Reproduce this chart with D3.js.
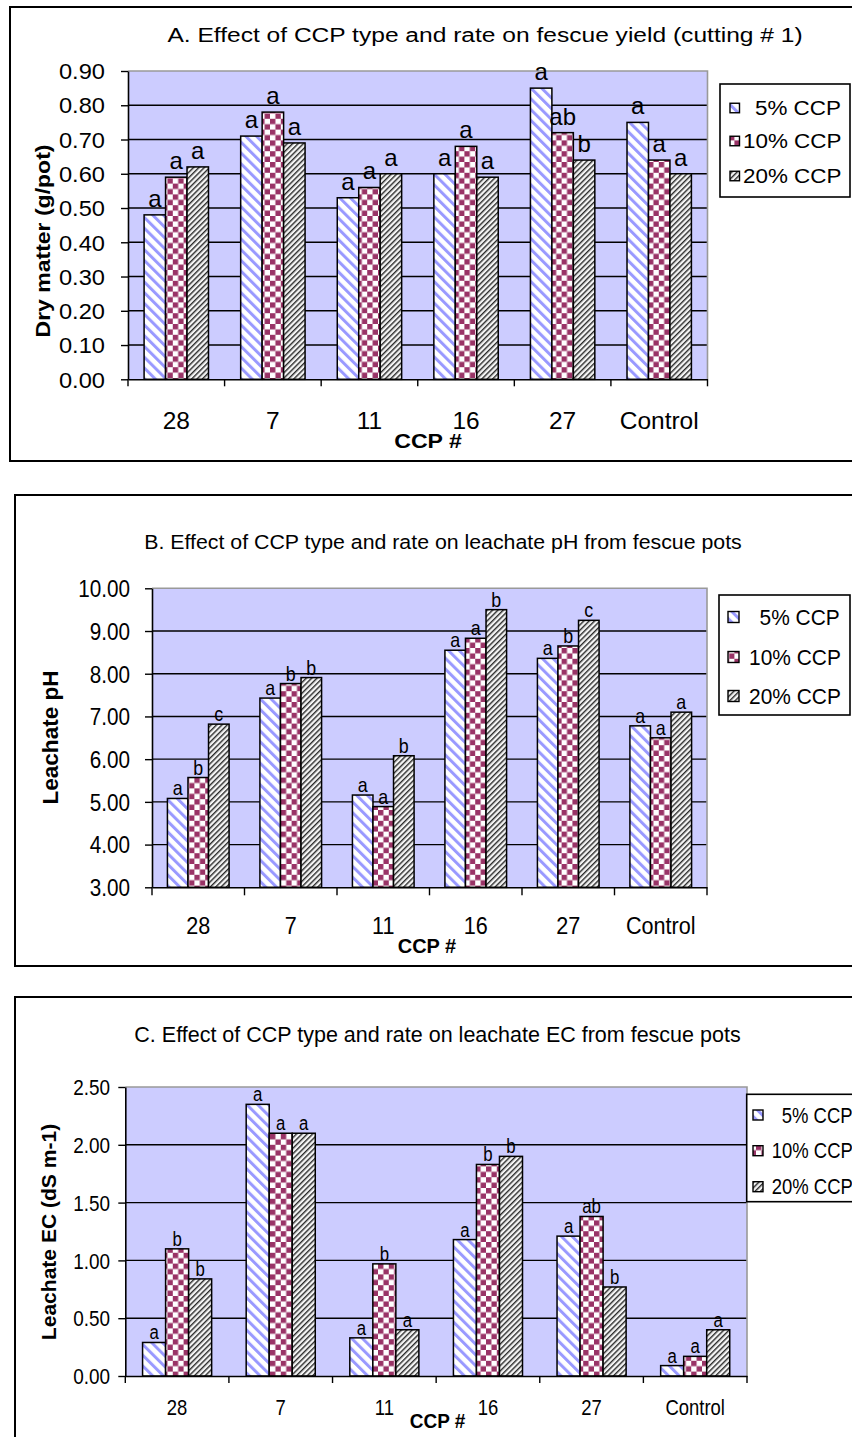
<!DOCTYPE html>
<html><head><meta charset="utf-8">
<script src="https://cdn.jsdelivr.net/npm/d3@7"></script>
<style>
body{margin:0;background:#fff}
svg{display:block}
text{font-family:"Liberation Sans",Arial,sans-serif;fill:#000}
</style>
</head><body>
<svg id="chart" width="852" height="1437"></svg>
<script>
// ---------------- DATA ----------------
const categories = ["28", "7", "11", "16", "27", "Control"];
const seriesNames = ["5% CCP", "10% CCP", "20% CCP"];

// A. Dry matter (g/pot)
const dryMatter5  = [0.48, 0.71, 0.53, 0.60, 0.85, 0.75];
const dryMatter10 = [0.59, 0.78, 0.56, 0.68, 0.72, 0.64];
const dryMatter20 = [0.62, 0.69, 0.60, 0.59, 0.64, 0.60];
const lettersA5  = ["a", "a", "a", "a", "a", "a"];
const lettersA10 = ["a", "a", "a", "a", "ab", "a"];
const lettersA20 = ["a", "a", "a", "a", "b", "a"];
const ticksA = [0, 0.1, 0.2, 0.3, 0.4, 0.5, 0.6, 0.7, 0.8, 0.9];

// B. Leachate pH
const pH5  = [5.08, 7.43, 5.16, 8.55, 8.36, 6.78];
const pH10 = [5.57, 7.77, 4.89, 8.83, 8.65, 6.50];
const pH20 = [6.82, 7.91, 6.08, 9.50, 9.25, 7.10];
const lettersB5  = ["a", "a", "a", "a", "a", "a"];
const lettersB10 = ["b", "b", "a", "a", "b", "a"];
const lettersB20 = ["c", "b", "b", "b", "c", "a"];
const ticksB = [3, 4, 5, 6, 7, 8, 9, 10];

// C. Leachate EC (dS m-1)
const ec5  = [0.29, 2.35, 0.33, 1.18, 1.21, 0.09];
const ec10 = [1.10, 2.10, 0.97, 1.83, 1.38, 0.17];
const ec20 = [0.84, 2.10, 0.40, 1.90, 0.77, 0.40];
const lettersC5  = ["a", "a", "a", "a", "a", "a"];
const lettersC10 = ["b", "a", "b", "b", "ab", "a"];
const lettersC20 = ["b", "a", "a", "b", "b", "a"];
const ticksC = [0, 0.5, 1, 1.5, 2, 2.5];

const titleA = "A. Effect of CCP type and rate on fescue yield (cutting # 1)";
const titleB = "B. Effect of CCP type and rate on leachate pH from fescue pots";
const titleC = "C. Effect of CCP type and rate on leachate EC from fescue pots";
const yTitleA = "Dry matter (g/pot)";
const yTitleB = "Leachate pH";
const yTitleC = "Leachate EC (dS m-1)";
const xTitle = "CCP #";

// ---------------- LAYOUT / STYLE ----------------
const svg = d3.select("#chart");
const defs = svg.append("defs");

function stripePattern(id, period, width, color, bg, angle) {
  const p = defs.append("pattern").attr("id", id)
    .attr("patternUnits", "userSpaceOnUse")
    .attr("width", period).attr("height", period)
    .attr("patternTransform", `rotate(${angle})`);
  p.append("rect").attr("width", period).attr("height", period).attr("fill", bg);
  p.append("rect").attr("width", width).attr("height", period).attr("fill", color);
}
stripePattern("pat5", 7.6, 3.0, "#9999ff", "#ffffff", -45);
stripePattern("pat20", 3.8, 1.4, "#2a2a2a", "#f4f4f4", 45);
(function () {
  const a = 5.4;
  const p = defs.append("pattern").attr("id", "pat10")
    .attr("patternUnits", "userSpaceOnUse").attr("width", 2 * a).attr("height", 2 * a);
  p.append("rect").attr("width", 2 * a).attr("height", 2 * a).attr("fill", "#ffffff");
  p.append("rect").attr("width", a).attr("height", a).attr("fill", "#993366");
  p.append("rect").attr("x", a).attr("y", a).attr("width", a).attr("height", a).attr("fill", "#993366");
})();
const fills = ["url(#pat5)", "url(#pat10)", "url(#pat20)"];

function txt(g, x, y, s, size, sx, opts = {}) {
  const t = g.append("text")
    .attr("transform", `translate(${x},${y})${opts.rot ? " rotate(-90)" : ""} scale(${sx},1)`)
    .attr("font-size", size)
    .attr("text-anchor", opts.anchor || "middle")
    .text(s);
  if (opts.bold) t.attr("font-weight", "bold");
  return t;
}

const panels = [
  {
    box: { x: 10, y: 7, h: 454 },
    plot: { left: 128, right: 707.5, top: 71, bottom: 379.3 },
    domain: [0, 0.9], ticks: ticksA,
    values: [dryMatter5, dryMatter10, dryMatter20],
    letters: [lettersA5, lettersA10, lettersA20],
    title: { s: titleA, x: 485, y: 41.5, size: 21, sx: 1.17 },
    yTitle: { s: yTitleA, x: 50, y: 241, size: 19.5, sx: 1.18 },
    xTitle: { x: 428, y: 448, size: 21, sx: 1.1 },
    tickLab: { endX: 105, size: 21.5, sx: 1.1 },
    xLab: { y: 429, size: 24, sx: 1.02 },
    barLab: { off: 8, size: 24, sx: 1.0 },
    tickLen: 7, catTick: 7,
    legend: { x: 720, y: 84, w: 130, h: 113, rows: [108, 141, 176], sw: 9.5, swX: 730, tx: 743, tx5: 755, size: 19.5, sx: 1.15 }
  },
  {
    box: { x: 15, y: 495, h: 471 },
    plot: { left: 152, right: 707, top: 588.3, bottom: 887.3 },
    domain: [3, 10], ticks: ticksB,
    values: [pH5, pH10, pH20],
    letters: [lettersB5, lettersB10, lettersB20],
    title: { s: titleB, x: 443, y: 549, size: 20.5, sx: 1.04 },
    yTitle: { s: yTitleB, x: 57.5, y: 737.5, size: 21.5, sx: 1.05 },
    xTitle: { x: 427, y: 953, size: 21, sx: 0.95 },
    tickLab: { endX: 130, size: 23, sx: 0.9 },
    xLab: { y: 934, size: 24, sx: 0.9 },
    barLab: { off: 3, size: 21, sx: 0.85 },
    tickLen: 7, catTick: 8,
    legend: { x: 719, y: 595, w: 131, h: 120, rows: [617, 657, 696], sw: 11, swX: 728, tx: 749, tx5: 759.5, size: 22.5, sx: 0.93 }
  },
  {
    box: { x: 15, y: 997, h: 520 },
    plot: { left: 125.3, right: 747, top: 1087, bottom: 1376 },
    domain: [0, 2.5], ticks: ticksC,
    values: [ec5, ec10, ec20],
    letters: [lettersC5, lettersC10, lettersC20],
    title: { s: titleC, x: 437.5, y: 1042, size: 21.5, sx: 1.0 },
    yTitle: { s: yTitleC, x: 56, y: 1232, size: 19.5, sx: 1.08 },
    xTitle: { x: 437.5, y: 1428, size: 20, sx: 0.95 },
    tickLab: { endX: 110, size: 21.5, sx: 0.88 },
    xLab: { y: 1414.5, size: 22, sx: 0.84 },
    barLab: { off: 3, size: 21, sx: 0.8 },
    tickLen: 7, catTick: 7,
    legend: { x: 746.7, y: 1094.3, w: 140, h: 107.4, rows: [1115, 1150.7, 1186.7], sw: 10, swX: 753, tx: 771.7, tx5: 781.7, size: 21.5, sx: 0.86 }
  }
];

panels.forEach(P => {
  const g = svg.append("g");
  const pl = P.plot;

  // outer chart frame (extends beyond the right edge like the reference)
  g.append("rect").attr("x", P.box.x).attr("y", P.box.y)
    .attr("width", 900).attr("height", P.box.h)
    .attr("fill", "none").attr("stroke", "#000").attr("stroke-width", 2);

  const x = d3.scaleBand().domain(categories).range([pl.left, pl.right]).padding(0);
  const xs = d3.scaleBand().domain(seriesNames).range([0, x.bandwidth()])
    .paddingInner(0).paddingOuter(0.75);
  const y = d3.scaleLinear().domain(P.domain).range([pl.bottom, pl.top]);

  // plot area
  g.append("rect").attr("x", pl.left).attr("y", pl.top)
    .attr("width", pl.right - pl.left).attr("height", pl.bottom - pl.top)
    .attr("fill", "#ccccff");

  // gridlines
  g.append("g").selectAll("line")
    .data(P.ticks.slice(1, -1)).join("line")
    .attr("x1", pl.left).attr("x2", pl.right)
    .attr("y1", d => y(d)).attr("y2", d => y(d))
    .attr("stroke", "#000").attr("stroke-width", 1.4);

  // plot border (top & right grey)
  g.append("path")
    .attr("d", `M${pl.left},${pl.top}H${pl.right}V${pl.bottom}`)
    .attr("fill", "none").attr("stroke", "#999").attr("stroke-width", 1.6);

  // bars
  seriesNames.forEach((sn, si) => {
    g.append("g").selectAll("rect")
      .data(categories.map((c, i) => ({ c, v: P.values[si][i] }))).join("rect")
      .attr("x", d => x(d.c) + xs(sn))
      .attr("y", d => y(d.v))
      .attr("width", xs.bandwidth())
      .attr("height", d => y(P.domain[0]) - y(d.v))
      .attr("fill", fills[si])
      .attr("stroke", "#000").attr("stroke-width", 1.5);
  });

  // bar letters
  const lg = g.append("g");
  seriesNames.forEach((sn, si) => {
    categories.forEach((c, i) => {
      const v = P.values[si][i];
      txt(lg, x(c) + xs(sn) + xs.bandwidth() / 2, y(v) - P.barLab.off,
        P.letters[si][i], P.barLab.size, P.barLab.sx);
    });
  });

  // y axis
  const pad = pl.left - P.tickLab.endX - P.tickLen;
  const yAxis = d3.axisLeft(y).tickValues(P.ticks).tickSize(P.tickLen)
    .tickSizeOuter(0).tickPadding(pad).tickFormat(d3.format(".2f"));
  const gy = g.append("g").attr("transform", `translate(${pl.left},0)`).call(yAxis);
  gy.select(".domain").attr("stroke", "#000").attr("stroke-width", 1.6);
  gy.selectAll(".tick line").attr("stroke", "#000").attr("stroke-width", 1.4);
  gy.selectAll(".tick text")
    .attr("x", null).attr("dy", null)
    .attr("font-size", P.tickLab.size)
    .attr("font-family", '"Liberation Sans",Arial,sans-serif')
    .attr("fill", "#000")
    .attr("transform", `translate(${-(P.tickLen + pad)},${0.36 * P.tickLab.size}) scale(${P.tickLab.sx},1)`);

  // x axis
  const xAxis = d3.axisBottom(x).tickSize(0).tickSizeOuter(0).tickPadding(0);
  const gx = g.append("g").attr("transform", `translate(0,${pl.bottom})`).call(xAxis);
  gx.select(".domain").attr("stroke", "#000").attr("stroke-width", 1.6);
  gx.selectAll(".tick text")
    .attr("y", null).attr("dy", null)
    .attr("font-size", P.xLab.size)
    .attr("font-family", '"Liberation Sans",Arial,sans-serif')
    .attr("fill", "#000")
    .attr("transform", `translate(0,${P.xLab.y - pl.bottom}) scale(${P.xLab.sx},1)`);
  // category boundary ticks
  const bounds = categories.map(c => x(c)).concat([x.range()[1]]);
  g.append("g").selectAll("line").data(bounds).join("line")
    .attr("x1", d => d).attr("x2", d => d)
    .attr("y1", pl.bottom).attr("y2", pl.bottom + P.catTick)
    .attr("stroke", "#000").attr("stroke-width", 1.4);

  // titles
  txt(g, P.title.x, P.title.y, P.title.s, P.title.size, P.title.sx);
  txt(g, P.yTitle.x, P.yTitle.y, P.yTitle.s, P.yTitle.size, P.yTitle.sx, { rot: true, bold: true });
  txt(g, P.xTitle.x, P.xTitle.y, xTitle, P.xTitle.size, P.xTitle.sx, { bold: true });

  // legend
  const L = P.legend;
  const gl = g.append("g");
  gl.append("rect").attr("x", L.x).attr("y", L.y).attr("width", L.w).attr("height", L.h)
    .attr("fill", "#fff").attr("stroke", "#000").attr("stroke-width", 1.6);
  seriesNames.forEach((sn, si) => {
    const cy = L.rows[si];
    gl.append("rect").attr("x", L.swX).attr("y", cy - L.sw / 2)
      .attr("width", L.sw).attr("height", L.sw)
      .attr("fill", fills[si]).attr("stroke", "#000").attr("stroke-width", 1.4);
    txt(gl, si === 0 ? L.tx5 : L.tx, cy + 0.36 * L.size, sn, L.size, L.sx, { anchor: "start" });
  });
});
</script>
</body></html>
